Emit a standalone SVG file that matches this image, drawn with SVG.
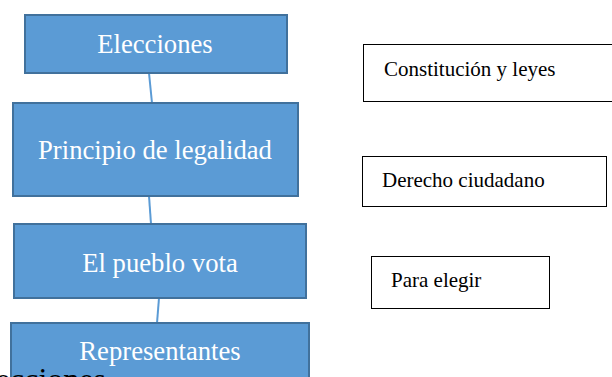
<svg xmlns="http://www.w3.org/2000/svg" width="612" height="377" viewBox="0 0 612 377">
<style>
.blue{fill:#5B9BD5;stroke:#41719C;stroke-width:2}
.wt{font-family:"Liberation Serif",serif;font-size:26.67px;fill:#ffffff;text-anchor:middle}
.box{fill:#ffffff;stroke:#000000;stroke-width:1}
.bt{font-family:"Liberation Serif",serif;font-size:21px;fill:#000000}
.con{stroke:#5B9BD5;stroke-width:2;fill:none}
</style>
<rect width="612" height="377" fill="#ffffff"/>
<g id="connectors">
<line class="con" x1="149" y1="73" x2="152" y2="103"/>
<line class="con" x1="149" y1="196" x2="151" y2="224"/>
<line class="con" x1="159" y1="298" x2="157" y2="323"/>
</g>
<g id="n1"><rect class="blue" x="25" y="15" width="262" height="58"/><text class="wt" x="155" y="53">Elecciones</text></g>
<g id="n2"><rect class="blue" x="13" y="103" width="285" height="93"/><text class="wt" x="155" y="159">Principio de legalidad</text></g>
<g id="n3"><rect class="blue" x="14" y="224" width="292" height="74"/><text class="wt" x="160" y="272">El pueblo vota</text></g>
<g id="n4"><rect class="blue" x="11" y="323" width="298" height="70"/><text class="wt" x="160" y="360">Representantes</text></g>
<g id="n5"><rect class="box" x="363.5" y="44.5" width="252" height="57"/><text class="bt" x="384" y="76">Constitución y leyes</text></g>
<g id="n6"><rect class="box" x="362.5" y="156.5" width="244" height="50"/><text class="bt" x="382" y="187">Derecho ciudadano</text></g>
<g id="n7"><rect class="box" x="371.5" y="256.5" width="178" height="52"/><text class="bt" x="391" y="287">Para elegir</text></g>
<text x="106" y="390" font-family="Liberation Serif, serif" font-size="32" fill="#000000" text-anchor="end">Elecciones</text>
</svg>
